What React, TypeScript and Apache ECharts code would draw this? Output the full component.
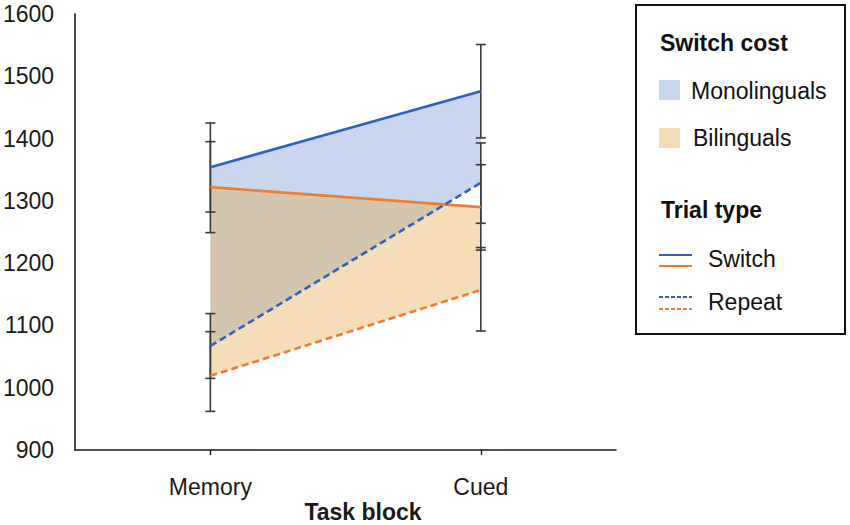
import React, { useEffect, useRef } from "react";
import * as echarts from "echarts";

const categories = ["Memory", "Cued"];
const monoSwitch = [1354, 1476];
const monoRepeat = [1067, 1329];
const biSwitch = [1322, 1290];
const biRepeat = [1019, 1157];

const monoSwitchErr = [[1282, 1425], [1401, 1551]];
const monoRepeatErr = [[1015, 1119], [1264, 1393]];
const biSwitchErr = [[1249, 1395], [1221, 1358]];
const biRepeatErr = [[962, 1090], [1091, 1225]];

const yTicks = { min: 900, max: 1600, interval: 100 };

const BLUE = "#2f5fc0";
const ORANGE = "#ed7d31";
const BLUE_FILL = "rgb(201,214,238)";
const ORANGE_FILL = "rgba(231,174,86,0.42)";
const ORANGE_SWATCH = "rgb(245,221,184)";
const FONT = "'Liberation Sans', Arial, sans-serif";

export default function App() {
  const ref = useRef<HTMLDivElement>(null);

  useEffect(() => {
    if (!ref.current) return;
    const chart = echarts.init(ref.current, undefined, { renderer: "svg" });

    const errData: number[][] = [];
    [monoSwitchErr, monoRepeatErr, biSwitchErr, biRepeatErr].forEach((arr) => {
      arr.forEach((e, i) => errData.push([i, e[0], e[1]]));
    });

    const hidden = {
      type: "line",
      showSymbol: false,
      symbol: "none",
      lineStyle: { opacity: 0, width: 0 },
      silent: true,
    };

    const lineSeries = (data: number[], color: string, dashed: boolean) => ({
      type: "line",
      data,
      symbol: "none",
      z: 5,
      lineStyle: { color, width: 2.6, type: dashed ? [7, 4] : "solid" },
    });

    const option: any = {
      animation: false,
      grid: { left: 74, top: 14, width: 542, height: 436, containLabel: false },
      xAxis: {
        type: "category",
        data: categories,
        boundaryGap: true,
        axisLine: { lineStyle: { color: "#1a1a1a", width: 1.6 } },
        axisTick: { show: true, alignWithLabel: true, length: 5, lineStyle: { color: "#1a1a1a", width: 1.4 } },
        axisLabel: { fontSize: 23, color: "#1a1a1a", fontFamily: FONT, margin: 25 },
        splitLine: { show: false },
      },
      yAxis: {
        type: "value",
        min: yTicks.min,
        max: yTicks.max,
        interval: yTicks.interval,
        axisLine: { show: true, lineStyle: { color: "#1a1a1a", width: 1.6 } },
        axisTick: { show: false },
        axisLabel: {
          fontSize: 23,
          color: "#1a1a1a",
          fontFamily: FONT,
          margin: 21,
          formatter: (v: number) => String(v),
        },
        splitLine: { show: false },
      },
      series: [
        { ...hidden, stack: "mono", data: monoRepeat, z: 1 },
        {
          ...hidden,
          stack: "mono",
          data: monoSwitch.map((v, i) => v - monoRepeat[i]),
          areaStyle: { color: BLUE_FILL, opacity: 1 },
          z: 1,
        },
        { ...hidden, stack: "bi", data: biRepeat, z: 2 },
        {
          ...hidden,
          stack: "bi",
          data: biSwitch.map((v, i) => v - biRepeat[i]),
          areaStyle: { color: ORANGE_FILL, opacity: 1 },
          z: 2,
        },
        {
          type: "custom",
          z: 3,
          data: errData,
          renderItem: (params: any, api: any) => {
            const x = api.value(0);
            const lo = api.coord([x, api.value(1)]);
            const hi = api.coord([x, api.value(2)]);
            const w = 5;
            const style = { stroke: "#3a3a3a", lineWidth: 1.6 };
            return {
              type: "group",
              children: [
                { type: "line", shape: { x1: lo[0], y1: lo[1], x2: hi[0], y2: hi[1] }, style },
                { type: "line", shape: { x1: lo[0] - w, y1: lo[1], x2: lo[0] + w, y2: lo[1] }, style },
                { type: "line", shape: { x1: hi[0] - w, y1: hi[1], x2: hi[0] + w, y2: hi[1] }, style },
              ],
            };
          },
        },
        lineSeries(monoSwitch, BLUE, false),
        lineSeries(biSwitch, ORANGE, false),
        lineSeries(monoRepeat, BLUE, true),
        lineSeries(biRepeat, ORANGE, true),
      ],
      graphic: [
        {
          type: "text",
          x: 363,
          y: 512,
          style: {
            text: "Task block",
            font: `bold 23px ${FONT}`,
            fill: "#1a1a1a",
            align: "center",
            verticalAlign: "middle",
          },
        },
        {
          type: "rect",
          shape: { x: 636, y: 5, width: 209, height: 329 },
          style: { fill: "#ffffff", stroke: "#111111", lineWidth: 2 },
        },
        {
          type: "text",
          x: 660,
          y: 43,
          style: { text: "Switch cost", font: `bold 23px ${FONT}`, fill: "#111", verticalAlign: "middle" },
        },
        { type: "rect", shape: { x: 659, y: 80, width: 21, height: 20 }, style: { fill: BLUE_FILL } },
        {
          type: "text",
          x: 691,
          y: 91,
          style: { text: "Monolinguals", font: `23px ${FONT}`, fill: "#111", verticalAlign: "middle" },
        },
        { type: "rect", shape: { x: 659, y: 128, width: 21, height: 20 }, style: { fill: ORANGE_SWATCH } },
        {
          type: "text",
          x: 693,
          y: 138,
          style: { text: "Bilinguals", font: `23px ${FONT}`, fill: "#111", verticalAlign: "middle" },
        },
        {
          type: "text",
          x: 661,
          y: 210,
          style: { text: "Trial type", font: `bold 23px ${FONT}`, fill: "#111", verticalAlign: "middle" },
        },
        { type: "line", shape: { x1: 659, y1: 255, x2: 692, y2: 255 }, style: { stroke: BLUE, lineWidth: 2 } },
        { type: "line", shape: { x1: 659, y1: 266, x2: 692, y2: 266 }, style: { stroke: ORANGE, lineWidth: 2 } },
        {
          type: "text",
          x: 708,
          y: 259,
          style: { text: "Switch", font: `23px ${FONT}`, fill: "#111", verticalAlign: "middle" },
        },
        {
          type: "line",
          shape: { x1: 659, y1: 297, x2: 692, y2: 297 },
          style: { stroke: BLUE, lineWidth: 2, lineDash: [4, 2] },
        },
        {
          type: "line",
          shape: { x1: 659, y1: 309, x2: 692, y2: 309 },
          style: { stroke: ORANGE, lineWidth: 2, lineDash: [4, 2] },
        },
        {
          type: "text",
          x: 708,
          y: 302,
          style: { text: "Repeat", font: `23px ${FONT}`, fill: "#111", verticalAlign: "middle" },
        },
      ],
    };

    chart.setOption(option);
    return () => chart.dispose();
  }, []);

  return (
    <div
      ref={ref}
      style={{ position: "fixed", left: 0, top: 0, width: 850, height: 525, background: "#fff" }}
    />
  );
}
